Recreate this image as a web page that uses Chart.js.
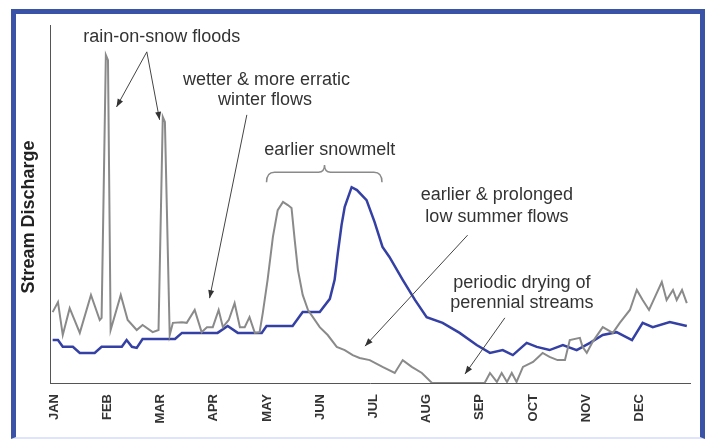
<!DOCTYPE html>
<html>
<head>
<meta charset="utf-8">
<script src="https://cdn.jsdelivr.net/npm/chart.js@4.4.1/dist/chart.umd.min.js"></script>
<style>
  html, body { margin: 0; padding: 0; background: #fff; }
  #wrap { position: relative; width: 711px; height: 439px; overflow: hidden; }
  #frame { position: absolute; left: 11px; top: 9px; width: 694px; height: 430px; box-sizing: border-box;
           border: 5px solid #3a53a6; border-bottom: 2px solid #dde4fb; pointer-events: none; }
  canvas { position: absolute; left: 0; top: 0; }
</style>
</head>
<body>
<div id="wrap">
<canvas id="c" width="711" height="439"></canvas>
<div id="frame"></div>
</div>
<script>
// Month tick labels (x unit = months, 0 = JAN)
const monthLabels = ["JAN","FEB","MAR","APR","MAY","JUN","JUL","AUG","SEP","OCT","NOV","DEC"];

// Future / altered regime (grey) : x in months, y = relative discharge (0-100)
const greyMonth = [-0.03,0.07,0.16,0.29,0.48,0.69,0.855,0.89,0.97,1.01,1.06,1.25,1.38,1.55,1.66,1.85,1.96,2.04,2.08,2.17,2.23,2.40,2.49,2.64,2.77,2.87,2.98,3.09,3.17,3.28,3.39,3.49,3.58,3.67,3.77,3.86,3.92,4.01,4.11,4.20,4.30,4.39,4.46,4.52,4.58,4.67,4.77,4.99,5.14,5.31,5.46,5.61,5.74,5.93,6.17,6.40,6.55,6.72,6.91,7.10,8.09,8.19,8.32,8.41,8.51,8.60,8.69,8.81,9.00,9.18,9.31,9.46,9.60,9.69,9.88,9.93,10.01,10.12,10.31,10.50,10.63,10.82,10.95,11.06,11.18,11.29,11.42,11.51,11.63,11.70,11.80,11.89];
const greyFlow  = [19.8,22.6,13.4,20.9,14.0,24.6,17.6,18.2,91.6,90.2,14.8,24.6,17.6,14.8,16.2,14.2,14.8,74.3,72.9,13.4,16.8,17.0,16.8,20.4,14.2,15.6,15.6,20.4,15.6,17.6,22.3,15.6,15.6,18.4,14.0,14.2,19.6,28.8,40.8,48.3,50.6,49.7,48.9,39.9,31.6,24.6,20.4,15.6,13.4,10.1,9.2,7.8,7.0,6.4,4.5,2.8,6.4,4.5,2.8,0,0,2.8,0.3,2.8,0.3,2.8,0.3,4.5,5.9,8.4,7.3,6.4,6.4,12.0,12.6,10.1,8.4,11.5,15.6,14.0,16.8,20.4,26.0,23.2,20.4,24.0,28.2,23.2,26.0,23.2,26.0,22.3];

// Historical regime (blue)
const blueMonth = [-0.03,0.07,0.16,0.35,0.48,0.76,0.89,1.27,1.36,1.46,1.55,1.66,2.27,2.40,3.07,3.26,3.45,3.90,3.99,4.48,4.67,4.99,5.18,5.27,5.33,5.40,5.46,5.59,5.69,5.87,6.02,6.17,6.30,6.55,6.78,7.00,7.30,7.62,7.94,8.19,8.43,8.62,8.88,9.07,9.31,9.56,9.82,10.07,10.31,10.57,10.86,11.06,11.25,11.57,11.89];
const blueFlow  = [12.0,12.0,10.1,10.1,8.4,8.4,10.1,10.1,12.0,10.1,9.8,12.3,12.3,14.0,14.0,15.9,14.0,14.0,15.9,15.9,19.8,19.8,23.5,28.8,36.3,44.1,49.2,54.7,53.9,51.1,45.0,38.0,35.2,28.8,23.2,18.4,16.8,14.0,10.6,8.4,9.2,7.8,11.2,10.1,9.2,10.6,9.2,11.2,13.4,14.2,12.0,16.8,15.6,17.0,15.9];

// Annotation texts: [label, month, value]
const noteTexts = [
  ["rain-on-snow floods", 2.02, 96.6],
  ["wetter & more erratic", 3.99, 84.6],
  ["winter flows", 3.96, 79.1],
  ["earlier snowmelt", 5.18, 65.1],
  ["earlier & prolonged", 8.32, 52.5],
  ["low summer flows", 8.32, 46.4],
  ["periodic drying of", 8.79, 27.9],
  ["perennial streams", 8.79, 22.3]
];
// Arrows: [fromMonth, fromValue, toMonth, toValue]
const noteArrows = [
  [1.74, 92.5, 1.17, 77.1],
  [1.74, 92.5, 1.98, 73.5],
  [3.62, 74.9, 2.92, 23.7],
  [7.77, 41.3, 5.84, 10.3],
  [8.47, 18.2, 7.72, 2.5]
];
// Brace over snowmelt peaks: [startMonth, endMonth, tipMonth, lineValue, endValue, tipValue]
const brace = [3.99, 6.16, 5.08, 58.9, 56.1, 60.9];

const toXY = (xs, ys) => xs.map((x, i) => ({x: x, y: ys[i]}));

const notesPlugin = {
  id: 'notes',
  afterDatasetsDraw(chart) {
    const ctx = chart.ctx, xs = chart.scales.x, ys = chart.scales.y;
    ctx.save();
    // arrows
    ctx.strokeStyle = '#444'; ctx.fillStyle = '#333'; ctx.lineWidth = 1;
    noteArrows.forEach(a => {
      const x1 = xs.getPixelForValue(a[0]), y1 = ys.getPixelForValue(a[1]);
      const x2 = xs.getPixelForValue(a[2]), y2 = ys.getPixelForValue(a[3]);
      ctx.beginPath(); ctx.moveTo(x1, y1); ctx.lineTo(x2, y2); ctx.stroke();
      const ang = Math.atan2(y2 - y1, x2 - x1), L = 8, W = 3;
      ctx.beginPath();
      ctx.moveTo(x2, y2);
      ctx.lineTo(x2 - L*Math.cos(ang) + W*Math.sin(ang), y2 - L*Math.sin(ang) - W*Math.cos(ang));
      ctx.lineTo(x2 - L*Math.cos(ang) - W*Math.sin(ang), y2 - L*Math.sin(ang) + W*Math.cos(ang));
      ctx.closePath(); ctx.fill();
    });
    // brace
    const bx1 = xs.getPixelForValue(brace[0]), bx2 = xs.getPixelForValue(brace[1]), bxm = xs.getPixelForValue(brace[2]);
    const by = ys.getPixelForValue(brace[3]), bye = ys.getPixelForValue(brace[4]), byt = ys.getPixelForValue(brace[5]);
    ctx.strokeStyle = '#8a8a8a'; ctx.lineWidth = 1.5;
    ctx.beginPath();
    ctx.moveTo(bx1, bye);
    ctx.quadraticCurveTo(bx1, by, bx1 + 8, by);
    ctx.lineTo(bxm - 6, by);
    ctx.quadraticCurveTo(bxm, by, bxm, byt);
    ctx.quadraticCurveTo(bxm, by, bxm + 6, by);
    ctx.lineTo(bx2 - 8, by);
    ctx.quadraticCurveTo(bx2, by, bx2, bye);
    ctx.stroke();
    // texts
    ctx.fillStyle = '#333';
    ctx.font = '18px "Liberation Sans", Arial, sans-serif';
    ctx.textAlign = 'center'; ctx.textBaseline = 'middle';
    noteTexts.forEach(t => ctx.fillText(t[0], xs.getPixelForValue(t[1]), ys.getPixelForValue(t[2])));
    // y axis title
    ctx.save();
    ctx.translate(29, (chart.chartArea.top + chart.chartArea.bottom) / 2 + 13);
    ctx.rotate(-Math.PI / 2);
    ctx.font = 'bold 18px "Liberation Sans", Arial, sans-serif';
    ctx.fillStyle = '#222';
    ctx.fillText('Stream Discharge', 0, 0);
    ctx.restore();
    ctx.restore();
  }
};

new Chart(document.getElementById('c'), {
  type: 'line',
  data: {
    datasets: [
      { data: toXY(greyMonth, greyFlow), borderColor: '#8a8a8a', borderWidth: 2, pointRadius: 0, tension: 0 },
      { data: toXY(blueMonth, blueFlow), borderColor: '#3440a4', borderWidth: 2.5, pointRadius: 0, tension: 0 }
    ]
  },
  options: {
    responsive: false,
    animation: false,
    devicePixelRatio: 1,
    layout: { padding: { top: 25, right: 21, left: 0, bottom: 0 } },
    plugins: { legend: { display: false }, title: { display: false }, tooltip: { enabled: false } },
    scales: {
      x: {
        type: 'linear', min: -0.08, max: 11.95,
        grid: { display: false },
        border: { display: true, color: '#555', width: 1 },
        afterBuildTicks: s => { s.ticks = monthLabels.map((_, i) => ({ value: i })); },
        afterFit: s => { s.height = 56; },
        ticks: {
          autoSkip: false, minRotation: 90, maxRotation: 90, padding: 3,
          color: '#333', font: { family: '"Liberation Sans", Arial, sans-serif', size: 13, weight: 'bold' },
          callback: (v, i) => monthLabels[i]
        }
      },
      y: {
        min: 0, max: 100,
        grid: { display: false },
        border: { display: true, color: '#555', width: 1 },
        ticks: { display: false },
        afterFit: s => { s.width = 50; }
      }
    }
  },
  plugins: [notesPlugin]
});
</script>
</body>
</html>
